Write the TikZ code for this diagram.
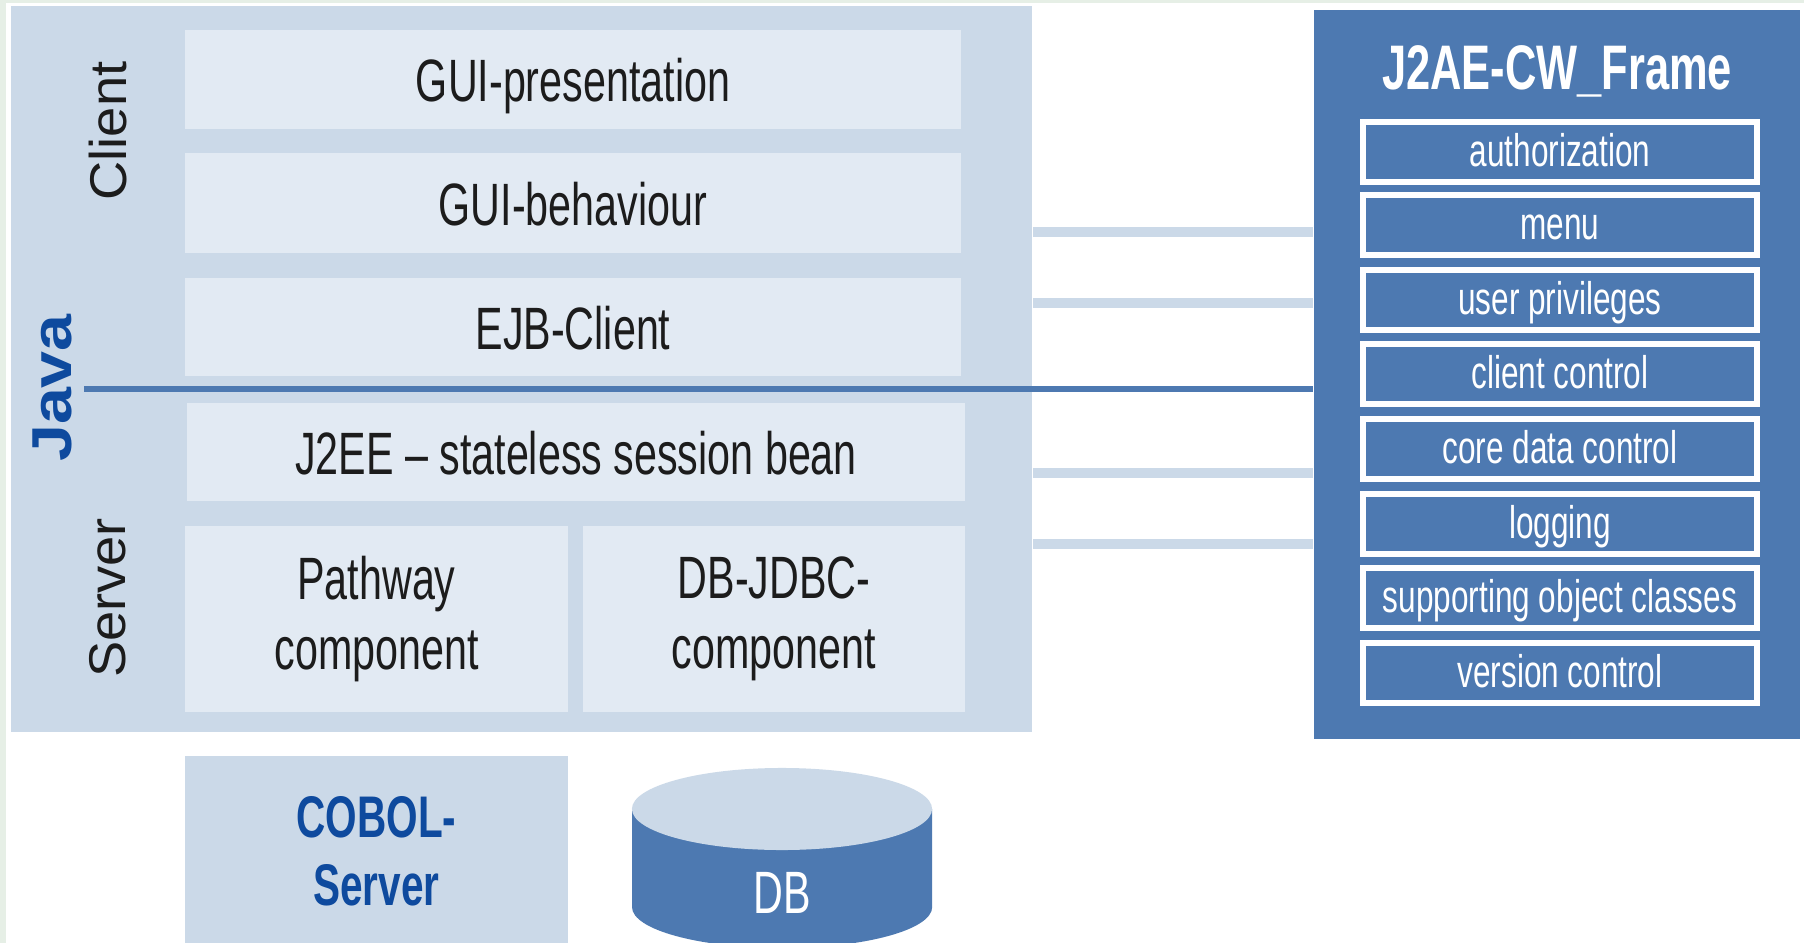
\documentclass[tikz,border=0pt]{standalone}
\usepackage{fontspec}
\setmainfont{Liberation Sans}
\newfontfamily\condfont{Liberation Sans}[FakeStretch=0.69]
\newfontfamily\widefont{Liberation Sans}[FakeStretch=1.05]
\newfontfamily\javafont{Liberation Sans}[FakeStretch=1.18]
\usepackage{xcolor}
\usepackage{tikz}

\definecolor{lightpanel}{HTML}{CBD9E8}
\definecolor{boxfill}{HTML}{E2EAF3}
\definecolor{framebg}{HTML}{4D79B1}
\definecolor{javablue}{HTML}{0E4A9E}
\definecolor{edgegreen}{HTML}{E6EFE6}
\definecolor{boxtext}{HTML}{1C1C1C}

\begin{document}
\begin{tikzpicture}[x=0.01cm,y=-0.01cm,
	layerbox/.style={fill=boxfill, inner sep=0pt, align=center, text=boxtext, font=\condfont\fontsize{17}{20}\selectfont},
	onerow/.style={text height=2.65ex, text depth=.25ex},
	sidelabel/.style={rotate=90, text=boxtext, font=\widefont\fontsize{14.7}{17}\selectfont},
	framebox/.style={draw=white, line width=0.06cm, fill=framebg, minimum width=3.94cm, minimum height=0.6cm, inner sep=0pt, text=white, font=\condfont\fontsize{13}{15}\selectfont, text height=1.8ex, text depth=.25ex},
	linkline/.style={draw=lightpanel, line width=0.1cm},
	javaline/.style={draw=framebg, line width=0.065cm}]
	\clip (0,0) rectangle (1804,943);
	\fill[edgegreen] (0,0) rectangle (1804,943);
	\fill[white] (6,3) rectangle (1804,943);

	% java side
	\node[fill=lightpanel, inner sep=0pt, minimum width=10.21cm, minimum height=7.26cm] (javapanel) at (521.5,369) {};
	\node[sidelabel] (client) at (108,131) {Client};
	\node[sidelabel] (server) at (108,598) {Server};
	\node[rotate=90, text=javablue, font=\javafont\bfseries\fontsize{16}{18}\selectfont] (java) at (52,388) {Java};

	\node[layerbox, onerow, minimum width=7.76cm, minimum height=0.99cm] (guipres) at (573,79.5) {GUI-presentation};
	\node[layerbox, onerow, minimum width=7.76cm, minimum height=1.0cm] (guibeh) at (573,203) {GUI-behaviour};
	\node[layerbox, onerow, minimum width=7.76cm, minimum height=0.98cm] (ejbclient) at (573,327) {EJB-Client};
	\node[layerbox, onerow, minimum width=7.78cm, minimum height=0.98cm] (sessionbean) at (576,452) {J2EE \textendash{} stateless session bean};
	\node[layerbox, minimum width=3.83cm, minimum height=1.86cm] (pathway) at (376.5,619) {Pathway\\component};
	\node[layerbox, minimum width=3.82cm, minimum height=1.86cm] (jdbc) at (774,619) {DB-JDBC-\\component};

	% frame
	\node[fill=framebg, inner sep=0pt, minimum width=4.86cm, minimum height=7.29cm] (frame) at (1557,374.5) {};
	\node[anchor=base, text=white, font=\condfont\bfseries\fontsize{17.9}{20}\selectfont] (title) at (1557,90) {J2AE-CW\_Frame};
	\node[framebox] (auth) at (1560,152) {authorization};
	\node[framebox] (menu) at (1560,225) {menu};
	\node[framebox] (privileges) at (1560,300) {user privileges};
	\node[framebox] (clientctrl) at (1560,374) {client control};
	\node[framebox] (coredata) at (1560,449) {core data control};
	\node[framebox] (logging) at (1560,524) {logging};
	\node[framebox] (objclasses) at (1560,598) {supporting object classes};
	\node[framebox] (version) at (1560,673) {version control};

	\draw[linkline] (javapanel.east |- 0,232) -- (frame.west |- 0,232);
	\draw[linkline] (javapanel.east |- 0,303) -- (frame.west |- 0,303);
	\draw[linkline] (javapanel.east |- 0,473) -- (frame.west |- 0,473);
	\draw[linkline] (javapanel.east |- 0,544) -- (frame.west |- 0,544);

	\coordinate (javastart) at (84,389);
	\draw[javaline] (javastart) -- (frame.west |- javastart);

	% backend
	\node[fill=lightpanel, inner sep=0pt, minimum width=3.83cm, minimum height=1.9cm, align=center, text=javablue, font=\condfont\bfseries\fontsize{16.7}{19.3}\selectfont] (cobol) at (376.5,851) {COBOL-\\Server};
	\fill[framebg] (632,809) -- (632,907) arc[start angle=180, end angle=360, x radius=1.5cm, y radius=0.41cm] -- (932,809) -- cycle;
	\fill[lightpanel] (782,809) ellipse [x radius=1.5cm, y radius=0.41cm];
	\node[text=white, font=\condfont\fontsize{17}{20}\selectfont] (db) at (782,893) {DB};
\end{tikzpicture}
\end{document}
